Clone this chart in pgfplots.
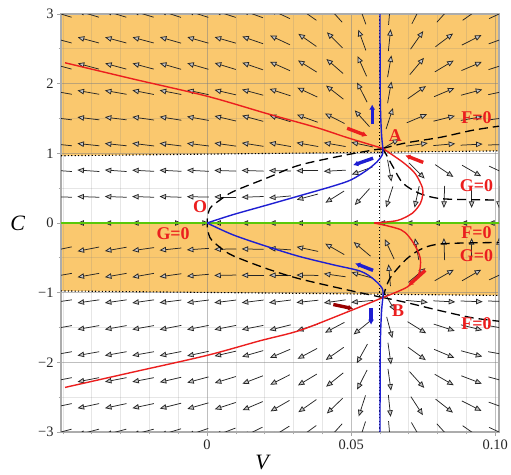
\documentclass[border=0pt]{standalone}
\usepackage{pgfplots}
\pgfplotsset{compat=1.18}
\usepackage{pgfplotstable}
\usepackage{fontspec}
\setmainfont{Liberation Serif}
\usetikzlibrary{arrows.meta}
\definecolor{bgorange}{RGB}{250,200,110}
\definecolor{mred}{RGB}{235,30,30}
\definecolor{mblue}{RGB}{30,30,210}
\definecolor{mgreen}{RGB}{90,200,10}
\pgfplotstableread{
k j a
0 16 163
1 16 163
2 16 163
3 16 163
4 16 162
5 16 162
6 16 162
7 16 160
8 16 155
9 16 145
10 16 132
11 16 110
12 16 85
13 16 63
14 16 48
15 16 35
16 16 25
0 15 165
1 15 165
2 15 165
3 15 165
4 15 164
5 15 164
6 15 164
7 15 161
8 15 155
9 15 145
10 15 135
11 15 110
12 15 84
13 15 55
14 15 37
15 15 27
16 15 20
0 14 165
1 14 165
2 14 165
3 14 165
4 14 164
5 14 164
6 14 163
7 14 161
8 14 156
9 14 148
10 14 139
11 14 114
12 14 80
13 14 50
14 14 31
15 14 23
16 14 18
0 13 170
1 13 170
2 13 170
3 13 169
4 13 169
5 13 168
6 13 167
7 13 165
8 13 162
9 13 155
10 13 142
11 13 117
12 13 80
13 13 35
14 13 23
15 13 15
16 13 12
0 12 173
1 12 173
2 12 173
3 12 172
4 12 171
5 12 170
6 12 167
7 12 165
8 12 163
9 12 160
10 12 153
11 12 132
12 12 72
13 12 23
14 12 14
15 12 10
16 12 8
0 11 174
1 11 174
2 11 174
3 11 173
4 11 173
5 11 173
6 11 172
7 11 171
8 11 170
9 11 170
10 11 170
11 11 168
12 11 30
13 11 8
14 11 5
15 11 3
16 11 2
0 10 176
1 10 176
2 10 176
3 10 177
4 10 177
5 10 177
6 10 178
7 10 178
8 10 179
9 10 180
10 10 183
11 10 200
12 10 280
13 10 315
14 10 326
15 10 330
16 10 335
0 9 178
1 9 178
2 9 178
3 9 178
4 9 178
5 9 179
6 9 180
7 9 182
8 9 185
9 9 195
10 9 212
11 9 228
12 9 252
13 9 258
14 9 268
15 9 270
16 9 270
0 8 180
1 8 180
2 8 180
3 8 180
4 8 0
5 8 0
6 8 180
7 8 180
8 8 180
9 8 180
10 8 180
11 8 180
12 8 180
13 8 180
14 8 180
15 8 180
16 8 180
0 7 192
1 7 191
2 7 190
3 7 188
4 7 186
5 7 184
6 7 181
7 7 179
8 7 176
9 7 168
10 7 150
11 7 140
12 7 115
13 7 100
14 7 92
15 7 90
16 7 90
0 6 190
1 6 190
2 6 190
3 6 190
4 6 188
5 6 185
6 6 181
7 6 180
8 6 180
9 6 179
10 6 172
11 6 165
12 6 95
13 6 40
14 6 30
15 6 30
16 6 25
0 5 188
1 5 188
2 5 188
3 5 188
4 5 187
5 5 187
6 5 187
7 5 187
8 5 187
9 5 186
10 5 188
11 5 185
12 5 300
13 5 355
14 5 357
15 5 358
16 5 358
0 4 190
1 4 190
2 4 190
3 4 190
4 4 191
5 4 191
6 4 191
7 4 191
8 4 194
9 4 198
10 4 208
11 4 219
12 4 285
13 4 328
14 4 342
15 4 346
16 4 350
0 3 190
1 3 190
2 3 190
3 3 190
4 3 191
5 3 192
6 3 193
7 3 196
8 3 203
9 3 208
10 3 215
11 3 241
12 3 278
13 3 324
14 3 337
15 3 345
16 3 350
0 2 191
1 2 191
2 2 191
3 2 191
4 2 193
5 2 195
6 2 197
7 2 201
8 2 207
9 2 211
10 2 219
11 2 243
12 2 278
13 2 312
14 2 330
15 2 339
16 2 345
0 1 192
1 1 192
2 1 192
3 1 192
4 1 194
5 1 196
6 1 198
7 1 203
8 1 210
9 1 215
10 1 224
11 1 252
12 1 276
13 1 303
14 1 322
15 1 333
16 1 340
0 0 195
1 0 195
2 0 195
3 0 195
4 0 197
5 0 199
6 0 201
7 0 206
8 0 212
9 0 216
10 0 228
11 0 252
12 0 275
13 0 300
14 0 312
15 0 325
16 0 335
}\field
\begin{document}
\begin{tikzpicture}
\begin{axis}[
  at={(61bp,43bp)}, anchor=south west,
  scale only axis, width=438bp, height=418bp,
  xmin=-0.0507, xmax=0.1013, ymin=-3, ymax=3,
  set layers,
  scaled x ticks=false,
  xtick={0,0.05,0.1}, xticklabels={0,0.05,0.10},
  minor xtick={-0.05,-0.04,-0.03,-0.02,-0.01,0.01,0.02,0.03,0.04,0.06,0.07,0.08,0.09},
  ytick={-3,-2,-1,0,1,2,3}, yticklabels={−3,−2,−1,0,1,2,3},
  minor ytick={-2.5,-1.5,-0.5,0.5,1.5,2.5},
  grid=both,
  major grid style={gray, opacity=0.5, line width=0.7bp},
  minor grid style={gray, opacity=0.2, line width=0.7bp},
  tick pos=left, tick align=outside,
  major tick length=4bp, minor tick length=2.5bp,
  tick style={gray!70, line width=0.7bp},
  axis line style={gray!65, line width=1.5bp},
  ticklabel style={font=\fontsize{14.5}{16}\selectfont, text=black!85},
  every axis x label/.style={at={(axis description cs:0.459,-0.074)}, anchor=center},
  every axis y label/.style={at={(axis description cs:-0.099,0.5)}, anchor=center},
  xlabel={\fontsize{22}{24}\selectfont\itshape V},
  ylabel={\fontsize{22}{24}\selectfont\itshape C},
]
% shaded regions
\addplot[on layer=axis background, fill=bgorange, draw=none] coordinates {(-0.0507,0.965)(0.1013,1.035)(0.1013,3)(-0.0507,3)} -- cycle;
\addplot[on layer=axis background, fill=bgorange, draw=none] coordinates {(-0.0507,0)(0.1013,0)(0.1013,-1.04)(-0.0507,-0.975)} -- cycle;
% vector field
\addplot[black!85, line width=0.75bp, -{Triangle[length=6.5bp,width=5.5bp,fill=gray!45]},
  quiver={u={0.007635*cos(\thisrow{a})}, v={0.3158*sin(\thisrow{a})}}]
  table[x expr={-0.0507+0.0095*\thisrow{k}-0.003817*cos(\thisrow{a})},
        y expr={-3+0.375*\thisrow{j}-0.1579*sin(\thisrow{a})}] {\field};
% dotted lines
\addplot[black, line width=1.1bp, dash pattern=on 1.2bp off 2.2bp] coordinates {(-0.0507,0.965)(0.1013,1.035)};
\addplot[black, line width=1.1bp, dash pattern=on 1.2bp off 2.2bp] coordinates {(-0.0507,-0.975)(0.1013,-1.04)};
\addplot[black, line width=1.2bp, dash pattern=on 1.2bp off 2.2bp] coordinates {(0.0597,-3)(0.0597,3)};
% dashed nullclines
\addplot[black, line width=1.3bp, dash pattern=on 9bp off 5bp, smooth] coordinates {(0.061,-1.07)(0.0486,-0.96)(0.032,-0.8)(0.021,-0.66)(0.009,-0.47)(0.0045,-0.35)(0.001,-0.21)(0,0)(0.001,0.21)(0.0045,0.33)(0.009,0.45)(0.021,0.65)(0.032,0.83)(0.0486,0.98)(0.061,1.07)};
\addplot[black, line width=1.3bp, dash pattern=on 9bp off 5bp, smooth] coordinates {(0.061,1.07)(0.069,1.15)(0.081,1.23)(0.092,1.33)(0.1013,1.39)};
\addplot[black, line width=1.3bp, dash pattern=on 9bp off 5bp, smooth] coordinates {(0.061,-1.07)(0.069,-1.14)(0.081,-1.26)(0.092,-1.36)(0.1013,-1.41)};
\addplot[black, line width=1.3bp, dash pattern=on 9bp off 5bp, smooth] coordinates {(0.061,1.07)(0.0646,0.8)(0.068,0.57)(0.074,0.42)(0.081,0.35)(0.092,0.335)(0.1013,0.33)};
\addplot[black, line width=1.3bp, dash pattern=on 9bp off 5bp, smooth] coordinates {(0.061,-1.07)(0.0635,-0.79)(0.0694,-0.51)(0.075,-0.36)(0.081,-0.3)(0.092,-0.285)(0.1013,-0.28)};
% green line
\addplot[mgreen, line width=1.7bp] coordinates {(-0.0507,0)(0.1013,0)};
% red curves
\addplot[mred, line width=1.4bp, smooth] coordinates {(-0.0493,2.30)(-0.026,2.07)(0,1.82)(0.0208,1.57)(0.038,1.37)(0.0483,1.23)(0.061,1.07)};
\addplot[mred, line width=1.4bp, smooth] coordinates {(-0.0493,-2.36)(-0.0257,-2.14)(0,-1.90)(0.0184,-1.69)(0.0323,-1.54)(0.0497,-1.26)(0.061,-1.07)};
\addplot[mred, line width=1.4bp, smooth] coordinates {(0.061,1.07)(0.068,0.87)(0.0722,0.71)(0.0747,0.51)(0.0748,0.40)(0.074,0.28)(0.0712,0.14)(0.066,0.036)(0.058,0)};
\addplot[mred, line width=1.4bp, smooth] coordinates {(0.058,0)(0.0674,-0.1)(0.0715,-0.28)(0.074,-0.51)(0.0733,-0.75)(0.0694,-0.92)(0.061,-1.07)};
% blue curves
\addplot[mblue, line width=1.4bp, smooth] coordinates {(0,0)(0.009,0.12)(0.021,0.26)(0.032,0.39)(0.0437,0.53)(0.05,0.62)(0.0555,0.76)(0.059,0.88)(0.0608,0.98)(0.061,1.07)};
\addplot[mblue, line width=1.4bp, smooth] coordinates {(0,0)(0.009,-0.17)(0.021,-0.34)(0.032,-0.48)(0.0438,-0.6)(0.0531,-0.69)(0.0576,-0.8)(0.0608,-0.94)(0.061,-1.07)};
\addplot[mblue, line width=1.4bp, smooth] coordinates {(0.061,1.07)(0.0605,1.3)(0.0601,1.8)(0.06,3)};
\addplot[mblue, line width=1.4bp, smooth] coordinates {(0.061,-1.07)(0.0605,-1.3)(0.0601,-1.8)(0.06,-3)};
% direction bars
\addplot[mblue, line width=3.4bp, -{Latex[length=5bp,width=6bp]}] coordinates {(0.0573,1.42)(0.0573,1.70)};
\addplot[mred, line width=3.4bp, -{Latex[length=5bp,width=6bp]}] coordinates {(0.0486,1.36)(0.0556,1.25)};
\addplot[mred, line width=3.4bp, -{Latex[length=5bp,width=6bp]}] coordinates {(0.075,0.87)(0.0688,0.97)};
\addplot[mblue, line width=3.4bp, -{Latex[length=5bp,width=6bp]}] coordinates {(0.0576,0.93)(0.0507,0.83)};
\addplot[mblue, line width=3.4bp, -{Latex[length=5bp,width=6bp]}] coordinates {(0.0576,-0.68)(0.0514,-0.58)};
\addplot[mblue, line width=3.4bp, -{Latex[length=5bp,width=6bp]}] coordinates {(0.0569,-1.22)(0.0569,-1.46)};
\addplot[mred, line width=3.4bp, -{Latex[length=5bp,width=6bp]}] coordinates {(0.0757,-0.68)(0.0698,-0.90)};
\addplot[red!60!black, line width=3.4bp, -{Latex[length=5bp,width=6bp]}] coordinates {(0.0438,-1.17)(0.0507,-1.23)};
% labels
\begin{scope}[every node/.style={text=mred, font=\bfseries\fontsize{18}{20}\selectfont, inner sep=0pt}]
\node at (axis cs:0.0653,1.26) {A};
\node at (axis cs:0.0663,-1.26) {B};
\node at (axis cs:-0.0024,0.24) {O};
\node at (axis cs:0.0935,1.51) {F=0};
\node at (axis cs:0.0935,0.54) {G=0};
\node at (axis cs:0.0935,-0.14) {F=0};
\node at (axis cs:0.0935,-0.47) {G=0};
\node at (axis cs:0.0935,-1.44) {F=0};
\node at (axis cs:-0.0118,-0.15) {G=0};
\end{scope}
\end{axis}
\pgfresetboundingbox
\path[use as bounding box] (0,0) rectangle (511bp,475bp);
\end{tikzpicture}
\end{document}
